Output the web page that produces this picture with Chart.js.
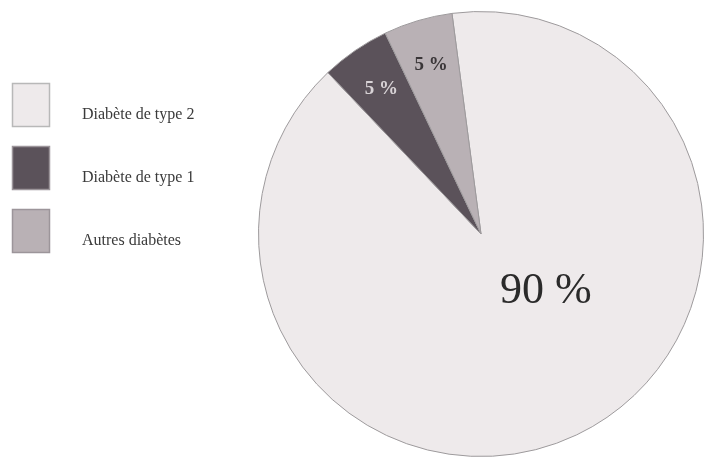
<!DOCTYPE html>
<html>
<head>
<meta charset="utf-8">
<script src="https://cdn.jsdelivr.net/npm/chart.js@4/dist/chart.umd.min.js"></script>
<style>
  html,body{margin:0;padding:0;background:#fff;}
  #wrap{width:705px;height:460px;position:relative;}
</style>
</head>
<body>
<div id="wrap"><canvas id="c"></canvas></div>
<script>
const categories = ["Diabète de type 2", "Diabète de type 1", "Autres diabètes"];
const values = [90, 5, 5];
const valueLabels = ["90 %", "5 %", "5 %"];
const colors = ["#eeeaeb", "#5b525a", "#b9b1b5"];

const serif = '"Liberation Serif", "DejaVu Serif", serif';

const sliceLabels = {
  id: 'sliceLabels',
  afterDatasetsDraw(chart) {
    const ctx = chart.ctx;
    const meta = chart.getDatasetMeta(0);
    ctx.save();
    ctx.textAlign = 'center';
    ctx.textBaseline = 'middle';
    meta.data.forEach((arc, i) => {
      const p = arc.getProps(['x','y','startAngle','endAngle','outerRadius'], true);
      let ang, rr, font, col;
      if (i === 0) {
        // big slice label placed to the lower right of the center
        ang = Math.PI / 180 * (131.7 - 90);
        rr = p.outerRadius * 0.39;
        font = '44px ' + serif; col = '#2a2a2a';
      } else {
        ang = (p.startAngle + p.endAngle) / 2;
        rr = p.outerRadius * 0.79;
        font = 'bold 19px ' + serif; col = i === 1 ? '#d8d3d6' : '#3a3638';
      }
      ctx.font = font;
      ctx.fillStyle = col;
      ctx.fillText(valueLabels[i], p.x + Math.cos(ang) * rr, p.y + Math.sin(ang) * rr);
    });
    ctx.restore();
  }
};

const sideLegend = {
  id: 'sideLegend',
  afterDraw(chart) {
    const ctx = chart.ctx;
    ctx.save();
    categories.forEach((name, i) => {
      const bx = 12, by = 83 + i * 63, bw = 38, bh = 44;
      ctx.fillStyle = colors[i];
      ctx.fillRect(bx, by, bw, bh);
      ctx.strokeStyle = i === 0 ? '#b8b8b8' : '#9c959a';
      ctx.lineWidth = 1.5;
      ctx.strokeRect(bx + 0.5, by + 0.5, bw - 1, bh - 1);
      ctx.fillStyle = '#3a3a3a';
      ctx.font = '16px ' + serif;
      ctx.textAlign = 'left';
      ctx.textBaseline = 'middle';
      ctx.fillText(name, 82, by + 32);
    });
    ctx.restore();
  }
};

new Chart(document.getElementById('c'), {
  type: 'pie',
  data: {
    labels: categories,
    datasets: [{
      data: values,
      backgroundColor: colors,
      borderColor: '#9d9a9c',
      borderWidth: 1
    }]
  },
  options: {
    responsive: true,
    maintainAspectRatio: false,
    animation: false,
    rotation: -7.5,
    layout: { padding: { left: 258, right: 1, top: 11, bottom: 3 } },
    plugins: {
      legend: { display: false },
      tooltip: { enabled: false }
    }
  },
  plugins: [sliceLabels, sideLegend]
});
</script>
</body>
</html>
